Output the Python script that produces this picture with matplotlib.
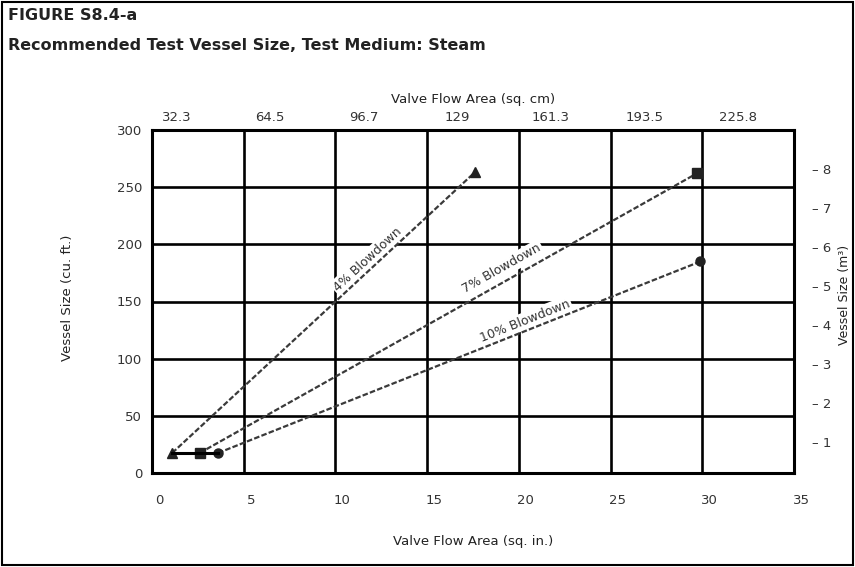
import math
import matplotlib
matplotlib.use("Agg")
import matplotlib.pyplot as plt
from matplotlib.patches import Rectangle
from matplotlib.transforms import ScaledTranslation

# ---- data ----
series_names = ["4% Blowdown", "7% Blowdown", "10% Blowdown"]
area_sq_in_4 = [1.1, 17.6]
vessel_cuft_4 = [17.5, 263]
area_sq_in_7 = [2.6, 29.7]
vessel_cuft_7 = [17.5, 262]
area_sq_in_10 = [3.6, 29.9]
vessel_cuft_10 = [17.5, 185]

x_ticks = [0, 5, 10, 15, 20, 25, 30, 35]
y_ticks = [0, 50, 100, 150, 200, 250, 300]
top_ticks = [32.3, 64.5, 96.7, 129, 161.3, 193.5, 225.8]
top_tick_labels = ["32.3", "64.5", "96.7", "129", "161.3", "193.5", "225.8"]
right_ticks = [1, 2, 3, 4, 5, 6, 7, 8]

FONT = ["Liberation Sans Narrow", "DejaVu Sans"]
plt.rcParams["font.family"] = FONT

W, H = 855, 567
fig = plt.figure(figsize=(W / 100, H / 100), dpi=100)
L, R, T, B = 152, 794, 130, 473
ax = fig.add_axes([L / W, 1 - B / H, (R - L) / W, (B - T) / H])

ax.set_xlim(0, 35)
ax.set_ylim(0, 300)
ax.set_xticks(x_ticks)
ax.set_yticks(y_ticks)
ax.grid(True, color="black", lw=1.9)
ax.set_axisbelow(True)
for s in ax.spines.values():
    s.set_linewidth(2.2)
ax.tick_params(axis="both", length=0, labelsize=9.5, colors="#333333")
ax.tick_params(axis="x", pad=15)
ax.tick_params(axis="y", pad=7)
off = ScaledTranslation(7 / 100, 0, fig.dpi_scale_trans)
for lab in ax.get_xticklabels():
    lab.set_transform(lab.get_transform() + off)

ax.set_xlabel("Valve Flow Area (sq. in.)", fontsize=9.5, labelpad=20, color="#222222")

# top axis (sq. cm)
axt = ax.twiny()
axt.set_xlim(23.7, 245.1)
axt.set_xticks(top_ticks)
axt.set_xticklabels(top_tick_labels)
axt.tick_params(axis="x", length=0, labelsize=9.5, pad=4, colors="#333333")
for s in axt.spines.values():
    s.set_visible(False)
axt.set_xlabel("Valve Flow Area (sq. cm)", fontsize=9.5, labelpad=6, color="#222222")

# right axis (m3)
axr = ax.twinx()
axr.set_ylim(0.2, 9.0)
axr.set_yticks(right_ticks)
axr.set_yticklabels([f"\u2013 {v}" for v in right_ticks])
axr.tick_params(axis="y", length=0, labelsize=9.5, pad=13, colors="#333333")
for s in axr.spines.values():
    s.set_visible(False)

fig.text(67 / W, 1 - 298 / H, "Vessel Size (cu. ft.)", rotation=90,
         ha="center", va="center", fontsize=9.5, color="#222222")
fig.text(844 / W, 1 - 295 / H, "Vessel Size (m\u00b3)", rotation=90,
         ha="center", va="center", fontsize=9, color="#222222")

# series
line_kw = dict(color="#3a3a3a", lw=1.6, ls=(0, (2.5, 1)), zorder=8)
series = [
    (area_sq_in_4, vessel_cuft_4, "^", 0.667, 6.5),
    (area_sq_in_7, vessel_cuft_7, "s", 0.62, 9.0),
    (area_sq_in_10, vessel_cuft_10, "o", 0.643, 6.8),
]
for name, (xs, ys, mk, t, d) in zip(series_names, series):
    ax.plot(xs, ys, marker=mk, ms=6.5, mfc="#222222", mec="#222222", **line_kw)

# connecting line at the start points
ax.plot([s[0][0] for s in series], [s[1][0] for s in series],
        color="black", lw=2.2, zorder=9)

for name, (xs, ys, mk, t, d) in zip(series_names, series):
    p0 = ax.transData.transform((xs[0], ys[0]))
    p1 = ax.transData.transform((xs[1], ys[1]))
    ang = math.atan2(p1[1] - p0[1], p1[0] - p0[0])
    xm = xs[0] + t * (xs[1] - xs[0])
    ym = ys[0] + t * (ys[1] - ys[0])
    ax.annotate(name, xy=(xm, ym),
                xytext=(-math.sin(ang) * d, math.cos(ang) * d),
                textcoords="offset points", rotation=math.degrees(ang),
                rotation_mode="anchor", ha="center", va="center",
                fontsize=9, color="#333333", zorder=6,
                bbox=dict(fc="white", ec="none", pad=1.5))

# titles
fig.text(8 / W, 1 - 16 / H, "FIGURE S8.4-a", ha="left", va="center",
         fontsize=11.5, fontweight="bold", color="#222222")
fig.text(8 / W, 1 - 45 / H, "Recommended Test Vessel Size, Test Medium: Steam",
         ha="left", va="center", fontsize=11.5, fontweight="bold", color="#222222")

fig.add_artist(Rectangle((2 / W, 2 / H), 1 - 4 / W, 1 - 4 / H,
                         transform=fig.transFigure, fill=False, lw=1.5, ec="black"))

fig.savefig("out.png", dpi=100)
